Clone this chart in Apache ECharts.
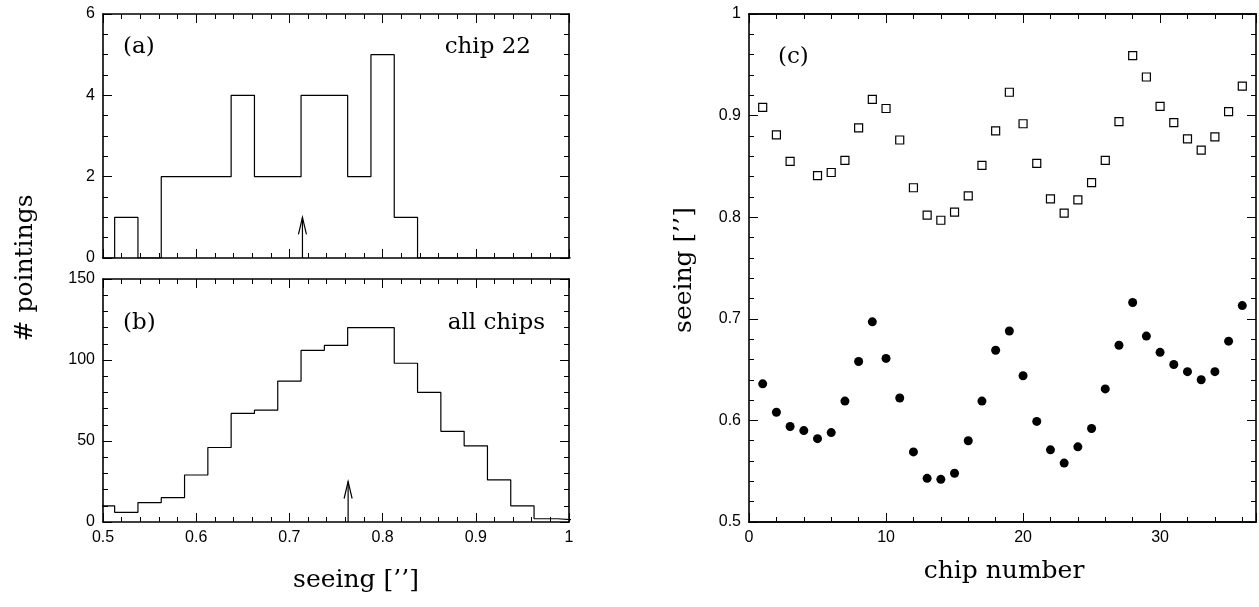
<!DOCTYPE html>
<html lang="en">
<head>
    <meta charset="UTF-8">
    <title>Seeing per chip</title>
    <script type="text/javascript" src="https://cdn.jsdelivr.net/npm/echarts@6/dist/echarts.min.js"></script>
    <style>
        html, body {
            width: 100%;
            height: 100%;
            margin: 0;
            padding: 0;
            background: #fff;
        }
        #main {
            width: 1259px;
            height: 607px;
        }
    </style>
</head>
<body>
    <div id="main"></div>
    <script>
        // histogram bins of seeing: first lower edge and bin width
        var binStart = 0.4875;
        var binWidth = 0.025;
        // (a) chip 22, pointings per bin
        var countsChip22 = [0, 1, 0, 2, 2, 2, 4, 2, 2, 4, 4, 2, 5, 1, 0, 0, 0, 0, 0, 0, 0];
        // (b) all chips, pointings per bin
        var countsAll = [10, 6, 12, 15, 29, 46, 67, 69, 87, 106, 109, 120, 120, 98, 80, 56, 47, 26, 10, 2, 1];
        // arrows: [seeing, arrow tip height]
        var arrowChip22 = [0.714, 1];
        var arrowAll = [0.763, 25];

        // (c) seeing per chip
        var chipNumbers = [1, 2, 3, 4, 5, 6, 7, 8, 9, 10, 11, 12, 13, 14, 15, 16, 17, 18,
            19, 20, 21, 22, 23, 24, 25, 26, 27, 28, 29, 30, 31, 32, 33, 34, 35, 36];
        var seeingOpen = [0.908, 0.881, 0.855, null, 0.841, 0.844, 0.856, 0.888, 0.916, 0.907, 0.876, 0.829,
            0.802, 0.797, 0.805, 0.821, 0.851, 0.885, 0.923, 0.892, 0.853, 0.818, 0.804, 0.817,
            0.834, 0.856, 0.894, 0.959, 0.938, 0.909, 0.893, 0.877, 0.866, 0.879, 0.904, 0.929];
        var seeingFilled = [0.636, 0.608, 0.594, 0.590, 0.582, 0.588, 0.619, 0.658, 0.697, 0.661, 0.622, 0.569,
            0.543, 0.542, 0.548, 0.580, 0.619, 0.669, 0.688, 0.644, 0.599, 0.571, 0.558, 0.574,
            0.592, 0.631, 0.674, 0.716, 0.683, 0.667, 0.655, 0.648, 0.640, 0.648, 0.678, 0.713];

        function stepData(counts) {
            var pts = counts.map(function (c, i) { return [binStart + i * binWidth, c]; });
            pts.push([binStart + counts.length * binWidth, counts[counts.length - 1]]);
            return pts;
        }
        function pairs(xs, ys) {
            var out = [];
            xs.forEach(function (x, i) { if (ys[i] != null) out.push([x, ys[i]]); });
            return out;
        }

        var serif = 'DejaVu Serif';
        var tickFont = { color: '#000', fontFamily: 'Liberation Sans', fontSize: 16 };

        function axis(grid, pos, min, max, interval, minorSplit, showLabel, tickLen) {
            return {
                type: 'value', gridIndex: grid, position: pos,
                min: min, max: max, interval: interval,
                axisLine: { show: true, onZero: false, lineStyle: { color: '#000', width: 1.6 } },
                axisTick: { show: true, inside: true, length: tickLen || 9, lineStyle: { color: '#000', width: 1 } },
                minorTick: { show: minorSplit > 0, splitNumber: minorSplit || 5, length: 5, lineStyle: { color: '#000', width: 1 } },
                axisLabel: Object.assign({ show: showLabel, margin: 8 }, tickFont),
                splitLine: { show: false },
                minorSplitLine: { show: false }
            };
        }

        var cxMajor = axis(2, 'bottom', 0, 37, 10, 0, true);
        cxMajor.axisLabel.formatter = function (v) { return v % 10 === 0 ? v : ''; };

        var xAxes = [
            axis(0, 'bottom', 0.5, 1, 0.1, 5, false),
            axis(0, 'top', 0.5, 1, 0.1, 5, false),
            axis(1, 'bottom', 0.5, 1, 0.1, 5, true),
            axis(1, 'top', 0.5, 1, 0.1, 5, false),
            cxMajor,
            axis(2, 'top', 0, 37, 10, 0, false),
            axis(2, 'bottom', 0, 37, 2, 0, false, 5),
            axis(2, 'top', 0, 37, 2, 0, false, 5)
        ];
        var yAxes = [
            axis(0, 'left', 0, 6, 2, 4, true),
            axis(0, 'right', 0, 6, 2, 4, false),
            axis(1, 'left', 0, 150, 50, 5, true),
            axis(1, 'right', 0, 150, 50, 5, false),
            axis(2, 'left', 0.5, 1, 0.1, 5, true),
            axis(2, 'right', 0.5, 1, 0.1, 5, false)
        ];

        function arrowItem(params, api) {
            var base = api.coord([api.value(0), 0]);
            var tip = api.coord([api.value(0), api.value(1)]);
            return {
                type: 'group',
                children: [
                    { type: 'line', shape: { x1: base[0], y1: base[1], x2: tip[0], y2: tip[1] },
                      style: { stroke: '#000', lineWidth: 1.2 } },
                    { type: 'polyline', shape: { points: [[tip[0] - 4, tip[1] + 17], [tip[0], tip[1]], [tip[0] + 4, tip[1] + 17]] },
                      style: { stroke: '#000', fill: null, lineWidth: 1.2 } }
                ]
            };
        }

        function label(text, x, y, opts) {
            return Object.assign({
                type: 'text', x: x, y: y,
                style: Object.assign({ text: text, font: '23px "' + serif + '"', fill: '#000', verticalAlign: 'middle' }, opts && opts.style)
            }, opts && opts.el);
        }

        var myChart = echarts.init(document.getElementById('main'));
        var option = {
            backgroundColor: '#fff',
            animation: false,
            grid: [
                { left: 103, top: 14, width: 466, height: 244 },
                { left: 103, top: 279, width: 466, height: 243 },
                { left: 749, top: 14, width: 508, height: 508 }
            ],
            xAxis: xAxes,
            yAxis: yAxes,
            series: [
                {
                    type: 'line', xAxisIndex: 0, yAxisIndex: 0, step: 'end', showSymbol: false,
                    data: stepData(countsChip22), lineStyle: { color: '#000', width: 1.2 }
                },
                {
                    type: 'line', xAxisIndex: 2, yAxisIndex: 2, step: 'end', showSymbol: false,
                    data: stepData(countsAll), lineStyle: { color: '#000', width: 1.2 }
                },
                { type: 'custom', xAxisIndex: 0, yAxisIndex: 0, renderItem: arrowItem, data: [arrowChip22] },
                { type: 'custom', xAxisIndex: 2, yAxisIndex: 2, renderItem: arrowItem, data: [arrowAll] },
                {
                    type: 'scatter', xAxisIndex: 4, yAxisIndex: 4, symbol: 'rect', symbolSize: 8,
                    data: pairs(chipNumbers, seeingOpen),
                    itemStyle: { color: '#fff', borderColor: '#000', borderWidth: 1.2, opacity: 1 }
                },
                {
                    type: 'scatter', xAxisIndex: 4, yAxisIndex: 4, symbol: 'circle', symbolSize: 9,
                    data: pairs(chipNumbers, seeingFilled),
                    itemStyle: { color: '#000', opacity: 1 }
                }
            ],
            graphic: [
                label('(a)', 123, 47),
                label('chip 22', 531, 47, { style: { align: 'right' } }),
                label('(b)', 123, 323),
                label('all chips', 545, 323, { style: { align: 'right' } }),
                label('(c)', 778, 57),
                label('# pointings', 25, 268, { style: { align: 'center', font: '25px "' + serif + '"' }, el: { rotation: Math.PI / 2 } }),
                label('seeing [\u2019\u2019]', 356, 580, { style: { align: 'center', font: '25px "' + serif + '"' } }),
                label('seeing [\u2019\u2019]', 684, 270, { style: { align: 'center', font: '25px "' + serif + '"' }, el: { rotation: Math.PI / 2 } }),
                label('chip number', 1004, 571, { style: { align: 'center', font: '25px "' + serif + '"' } })
            ]
        };
        myChart.setOption(option);

        window.addEventListener('resize', function () {
            myChart.resize();
        });
    </script>
</body>
</html>
